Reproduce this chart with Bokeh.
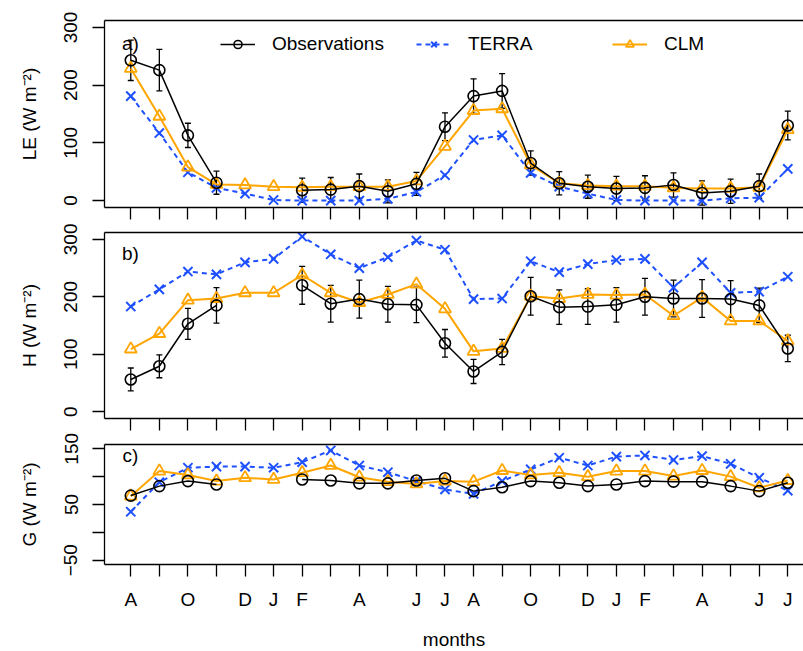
from bokeh.plotting import figure
from bokeh.layouts import column
from bokeh.models import (ColumnDataSource, FixedTicker, Range1d, LinearAxis,
                          Whisker, TeeHead, Legend, LegendItem, Label)
from bokeh.embed import file_html
from bokeh.resources import INLINE

nan = float("nan")

# months Aug .. Jul of the following year, two seasonal cycles
month_index = list(range(1, 25))
tick_labels = ["A", "", "O", "", "D", "J", "F", "", "A", "", "J", "J",
               "A", "", "O", "", "D", "J", "F", "", "A", "", "J", "J"]

# latent heat flux LE (W m-2)
le_obs = [243, 226, 113, 31, nan, nan, 18, 19, 25, 16, 29, 128,
          181, 190, 65, 30, 24, 21, 22, 27, 13, 16, 25, 130]
le_obs_err = [35, 36, 21, 20, nan, nan, 21, 21, 21, 20, 20, 24,
              30, 30, 21, 20, 20, 21, 21, 21, 21, 21, 21, 25]
le_terra = [181, 117, 49, 22, 12, 1, 0, 0, 0, 3, 15, 44,
            105, 113, 48, 24, 12, 1, 0, 0, 0, 4, 5, 55]
le_clm = [229, 146, 58, 28, 27, 24, 23, 24, 24, 24, 34, 94,
          156, 159, 62, 30, 26, 25, 25, 22, 21, 21, 23, 123]

# sensible heat flux H (W m-2)
h_obs = [56, 79, 153, 185, nan, nan, 220, 188, 196, 187, 186, 119,
         70, 104, 201, 182, 183, 186, 200, 197, 197, 196, 185, 110]
h_obs_err = [20, 20, 27, 31, nan, nan, 33, 32, 33, 31, 31, 24,
             21, 22, 33, 30, 31, 30, 32, 32, 33, 32, 30, 23]
h_terra = [183, 213, 244, 239, 260, 266, 305, 274, 250, 269, 298, 282,
           196, 197, 262, 243, 257, 264, 266, 216, 260, 207, 209, 235]
h_clm = [109, 136, 194, 197, 207, 207, 238, 207, 190, 204, 222, 179,
         105, 110, 201, 197, 204, 203, 204, 167, 199, 158, 158, 123]

# ground heat flux G (W m-2)
g_obs = [66, 83, 92, 86, nan, nan, 95, 93, 88, 88, 93, 97,
         74, 81, 92, 89, 83, 86, 92, 91, 91, 83, 74, 89]
g_terra = [37, 90, 116, 118, 118, 116, 126, 147, 120, 108, 92, 77,
           69, 92, 113, 134, 120, 136, 138, 130, 137, 123, 98, 75]
g_clm = [65, 110, 103, 92, 98, 95, 107, 120, 99, 91, 87, 92,
         91, 111, 103, 107, 100, 110, 110, 101, 111, 100, 80, 93]

FONT = "Liberation Sans"
FS = "19px"
BLUE = "#1E50FF"
ORANGE = "#FFA500"
FRAME_LEFT = 104
FRAME_W = 803 - FRAME_LEFT
PX_PER_MONTH = 28.565
X_START = 0.08
X_END = X_START + FRAME_W / PX_PER_MONTH


def style_ticks(axis):
    # labelled ticks are "major", unlabelled ones are drawn as equal-length "minor"
    axis.major_tick_out = 12
    axis.major_tick_in = 0
    axis.minor_tick_out = 12
    axis.minor_tick_in = 0
    axis.axis_line_width = 1.3
    axis.major_tick_line_width = 1.3
    axis.minor_tick_line_width = 1.3
    axis.axis_line_color = "black"
    axis.major_tick_line_color = "black"
    axis.minor_tick_line_color = "black"


def make_panel(obs, err, terra, clm, ylab, yr, yticks, ytick_minor, tag, tag_y,
               frame_h, top, bottom, show_x_labels):
    p = figure(frame_width=FRAME_W, frame_height=frame_h,
               x_range=Range1d(X_START, X_END), y_range=Range1d(*yr),
               output_backend="svg", toolbar_location=None,
               min_border_left=FRAME_LEFT, min_border_right=0,
               min_border_top=top, min_border_bottom=bottom)
    p.outline_line_color = None
    p.xgrid.visible = False
    p.ygrid.visible = False
    p.background_fill_color = "white"
    p.border_fill_color = "white"

    # models
    r_terra_l = p.line(month_index, terra, line_color=BLUE, line_width=2,
                       line_dash="5 4")
    r_terra_m = p.scatter(month_index, terra, marker="x", size=13,
                          line_color=BLUE, line_width=2)
    r_clm_l = p.line(month_index, clm, line_color=ORANGE, line_width=2)
    r_clm_m = p.scatter(month_index, clm, marker="triangle", size=12,
                        fill_color=None, line_color=ORANGE, line_width=1.8)

    # observations with error bars
    r_obs_l = p.line(month_index, obs, line_color="black", line_width=1.5)
    r_obs_m = p.scatter(month_index, obs, marker="circle", size=11,
                        fill_color=None, line_color="black", line_width=1.6)
    if err is not None:
        xs, lo, hi = [], [], []
        for m, v, e in zip(month_index, obs, err):
            if v == v and e == e:
                xs.append(m)
                lo.append(v - e)
                hi.append(v + e)
        src = ColumnDataSource(dict(x=xs, lower=lo, upper=hi))
        w = Whisker(base="x", lower="lower", upper="upper", source=src,
                    line_color="black", line_width=1.3,
                    upper_head=TeeHead(size=6, line_color="black", line_width=1.3),
                    lower_head=TeeHead(size=6, line_color="black", line_width=1.3))
        p.add_layout(w)

    # left axis
    ya = p.yaxis[0]
    ya.ticker = FixedTicker(ticks=yticks, minor_ticks=ytick_minor)
    style_ticks(ya)
    ya.major_label_overrides = {t: ("\u2212" + str(-t) if t < 0 else str(t))
                                for t in yticks}
    ya.major_label_orientation = "vertical"
    ya.major_label_standoff = 15
    ya.major_label_text_font = FONT
    ya.major_label_text_font_size = FS
    ya.major_label_text_color = "black"
    ya.axis_label = ylab
    ya.axis_label_text_font = FONT
    ya.axis_label_text_font_size = FS
    ya.axis_label_text_font_style = "normal"
    ya.axis_label_text_color = "black"
    ya.axis_label_standoff = 22

    # bottom axis
    xa = p.xaxis[0]
    style_ticks(xa)
    if show_x_labels:
        major = [m for m, t in zip(month_index, tick_labels) if t]
        minor = [m for m, t in zip(month_index, tick_labels) if not t]
        xa.ticker = FixedTicker(ticks=major, minor_ticks=minor)
        xa.major_label_overrides = {m: t for m, t in zip(month_index, tick_labels) if t}
        xa.major_label_text_font = FONT
        xa.major_label_text_font_size = FS
        xa.major_label_text_color = "black"
        xa.major_label_standoff = 12
        xa.axis_label = "months"
        xa.axis_label_text_font = FONT
        xa.axis_label_text_font_size = FS
        xa.axis_label_text_font_style = "normal"
        xa.axis_label_text_color = "black"
        xa.axis_label_standoff = 16
    else:
        xa.ticker = FixedTicker(ticks=[], minor_ticks=month_index)
        xa.major_label_standoff = 0

    # top edge of the box
    top_axis = LinearAxis(ticker=FixedTicker(ticks=[]), major_tick_out=0,
                          major_tick_in=0, minor_tick_out=0, minor_tick_in=0,
                          major_label_standoff=0, axis_line_width=1.3,
                          axis_line_color="black")
    p.add_layout(top_axis, "above")

    p.add_layout(Label(x=26, y=frame_h - tag_y, x_units="screen",
                       y_units="screen", text=tag, text_align="center",
                       text_baseline="middle", text_font=FONT,
                       text_font_size=FS, text_color="black"))
    return p, (r_obs_l, r_obs_m), (r_terra_l, r_terra_m), (r_clm_l, r_clm_m)


p1, obs_r, terra_r, clm_r = make_panel(
    le_obs, le_obs_err, le_terra, le_clm, "LE (W m\u207b\u00b2)",
    (-12, 312), [0, 100, 200, 300], [], "a)", 23, 187, 20, 13, False)

legend = Legend(items=[
    LegendItem(label="Observations", renderers=list(obs_r)),
    LegendItem(label="TERRA", renderers=list(terra_r)),
    LegendItem(label="CLM", renderers=list(clm_r)),
], orientation="horizontal", location=(116, 152), padding=0, margin=0,
    spacing=0, glyph_width=35, glyph_height=20, label_width=144,
    label_height=20, label_standoff=17, border_line_color=None,
    background_fill_alpha=0, label_text_font=FONT, label_text_font_size=FS,
    label_text_color="black")
p1.add_layout(legend)

p2, _, _, _ = make_panel(
    h_obs, h_obs_err, h_terra, h_clm, "H (W m\u207b\u00b2)",
    (-12, 312), [0, 100, 200, 300], [], "b)", 21, 186, 12, 14, False)

p3, _, _, _ = make_panel(
    g_obs, None, g_terra, g_clm, "G (W m\u207b\u00b2)",
    (-57.7, 157.7), [-50, 50, 150], [0, 100], "c)", 11, 120, 12, 87, True)

layout = column(p1, p2, p3, spacing=0)
open("out.html", "w").write(file_html(layout, INLINE))
